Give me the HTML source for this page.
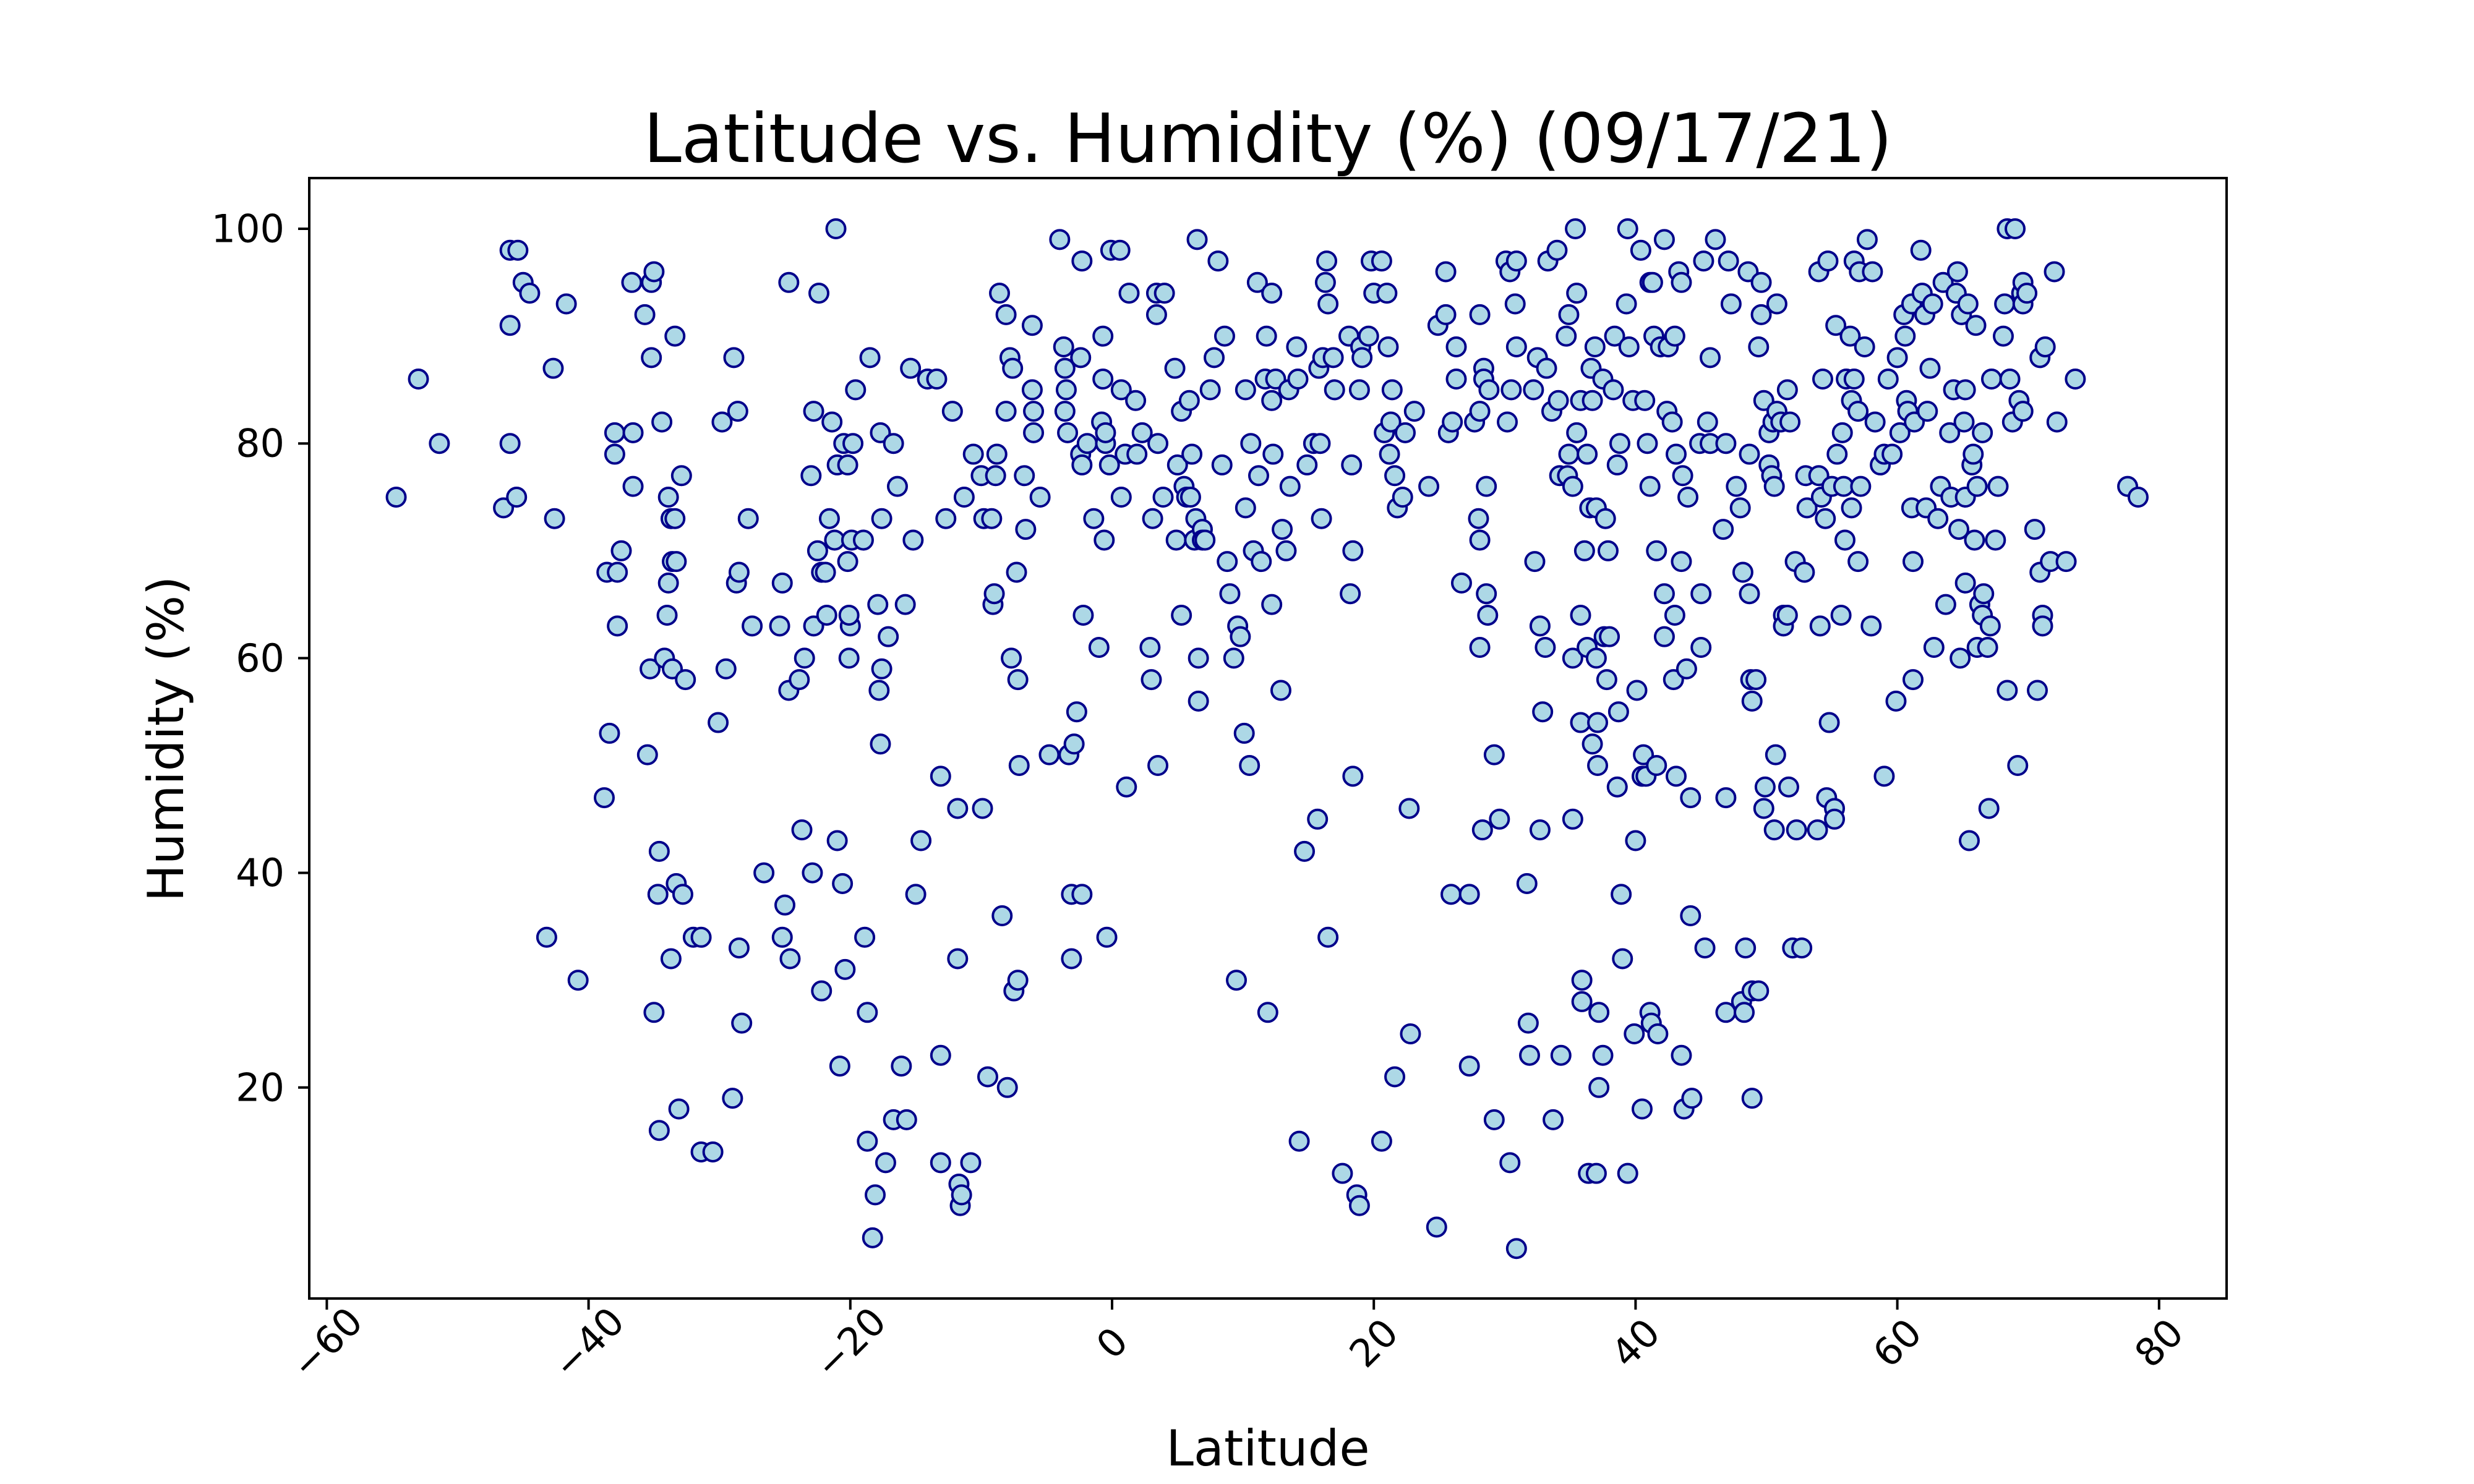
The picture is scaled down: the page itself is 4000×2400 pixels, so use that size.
<!DOCTYPE html>
<html><head><meta charset="utf-8"><style>
html,body{margin:0;padding:0;background:#fff;}
svg{display:block;font-family:"DejaVu Sans","Liberation Sans",sans-serif;}
</style></head><body>
<svg id="chart" width="4000" height="2400" viewBox="0 0 4000 2400" xmlns="http://www.w3.org/2000/svg">
<rect x="0" y="0" width="4000" height="2400" fill="#fff"/>
<text x="2050" y="262" font-size="110" text-anchor="middle" fill="#000">Latitude vs. Humidity (%) (09/17/21)</text>
<text x="2050" y="2370" font-size="80" text-anchor="middle" fill="#000">Latitude</text>
<text x="0" y="0" font-size="80" text-anchor="middle" fill="#000" transform="translate(296,1195) rotate(-90)">Humidity (%)</text>
<g id="ticks"></g>
<g id="points"></g>
<rect x="500" y="288" width="3100" height="1812" fill="none" stroke="#000" stroke-width="4"/>
</svg>
<script>
const xTicks = [-60,-40,-20,0,20,40,60,80];
const xTickLabels = ["\u221260","\u221240","\u221220","0","20","40","60","80"];
const yTicks = [20,40,60,80,100];
const yTickLabels = ["20","40","60","80","100"];
const latitudes = [-54.7,-53,-51.4,-46.5,-46,-45.4,-46,-46,-45.5,-45,-44.5,-41.7,-42.7,-42.6,-43.2,-40.8,
-38.8,-38.6,-38.4,-38,-38,-37.8,-37.8,-37.5,-36.7,-36.6,-36.6,-35.7,-35.5,-35.2,-35,-35.2,-35.3,-35,-34.6,-34.7,-34.6,-34.4,-34.2,-34,-33.9,-33.7,-33.6,-33.9,-33.7,-33.6,-33.4,-33.3,-33.4,-33.3,-33.1,-32.9,-32.8,-32.6,-32,-31.4,-31.4,-30.5,-30.1,-29.8,-29.5,-29,-28.9,-28.7,-28.6,-28.5,-28.5,-28.3,-27.8,-27.5,-26.6,-25.4,-25.2,-25,-25.2,-24.7,-24.6,-24.7,-23.9,-23.7,-23.5,-23,-22.8,-22.9,-22.8,-22.5,-22.4,-22.2,-22.2,-21.9,-21.8,-21.6,-21.4,-21.2,-21.1,-21,-20.8,-21,-20.6,-20.5,-20.4,-20.2,-20.2,-20.1,-20,-20.1,-19.9,-19.8,-19.6,
-19,-18.9,-18.7,-18.7,-18.5,-18.3,-18.1,-17.9,-17.8,-17.7,-17.7,-17.6,-17.6,-17.3,-17.1,-16.7,-16.7,-16.4,-16.1,-15.8,-15.7,-15.4,-15.2,-15,-14.6,-14.1,-13.4,-13.1,-13.1,-13.1,-12.7,-12.2,-11.8,-11.8,-11.7,-11.6,-11.5,-11.3,-10.8,-10.6,-10,-9.9,-9.5,-9.8,-9.2,-9.1,-9,-8.9,-8.8,-8.6,-8.4,-8.1,-8.1,-8,-7.8,-7.7,-7.6,-7.5,-7.3,-7.2,-7.2,-7.1,-6.7,-6.6,-6.1,-6.1,-6,-6,-5.5,-4.8,-4,-3.7,-3.6,-3.6,-3.5,-3.4,-3.3,-3.1,-3.1,-2.9,-2.7,-2.4,-2.3,-2.2,-2.3,-2.4,-2.3,-1.9,-1.4,-1,-0.8,-0.7,-0.7,-0.6,-0.5,-0.5,-0.4,-0.2,-0.1,
0.6,0.7,0.7,1,1.1,1.3,1.8,1.9,2.3,2.9,3,3.1,3.4,3.4,3.5,3.5,3.9,4,4.8,4.9,5,5.3,5.3,5.5,5.7,5.9,6,6.1,6.3,6.4,6.5,6.6,6.6,6.9,6.9,7.1,7.5,7.8,8.1,8.4,8.6,8.8,9,9.3,9.5,9.6,9.8,10.1,10.2,10.2,10.5,10.6,10.8,11.1,11.2,11.4,11.7,11.8,11.9,12.2,12.2,12.2,12.3,12.5,12.9,13,13.3,13.5,13.6,14.1,14.2,14.3,14.7,14.9,15.4,15.7,15.8,15.9,16,16.1,16.3,16.4,16.5,16.5,16.9,17,17.6,18.1,18.2,18.3,18.4,18.4,18.7,18.9,18.9,19,19.1,19.6,19.8,20,
20.6,20.6,20.8,21,21.1,21.2,21.3,21.4,21.6,21.6,21.8,22.2,22.4,22.7,22.8,23.1,24.2,24.8,24.9,25.5,25.5,25.7,25.9,26,26.3,26.3,26.7,27.3,27.3,27.7,28,28.1,28.1,28.1,28.1,28.3,28.4,28.4,28.6,28.6,28.7,28.8,29.2,29.2,29.6,30.1,30.2,30.4,30.5,30.4,30.9,30.9,30.8,30.9,31.7,31.8,31.9,32.2,32.3,32.5,32.7,32.7,32.9,33.1,33.2,33.3,33.6,33.7,34,34.1,34.2,34.3,34.7,34.8,34.9,34.9,35.2,35.2,35.2,35.4,35.5,35.5,35.8,35.8,35.8,35.9,35.9,36.1,36.3,36.3,36.4,36.5,36.6,36.7,36.7,36.9,37,37,37,37.1,37.1,37.2,37.2,37.5,37.5,37.6,37.7,37.8,37.9,38,38.3,38.4,38.6,38.6,38.7,38.8,38.9,39,39.3,39.4,39.4,39.5,39.8,
40,39.9,40.1,40.4,40.5,40.5,40.6,40.7,40.8,40.9,41.1,41.1,41.1,41.2,41.3,41.4,41.6,41.6,41.7,41.9,42.2,42.2,42.2,42.4,42.5,42.8,42.9,43,43,43.1,43.1,43.3,43.5,43.5,43.5,43.6,43.7,43.9,44,44.2,44.2,44.3,44.9,45,45,45.2,45.3,45.5,45.7,45.7,46.1,46.7,46.9,46.9,46.9,47.1,47.3,47.7,48,48.1,48.2,48.3,48.4,48.6,48.7,48.7,48.8,48.9,48.9,48.9,49.2,49.4,49.4,49.6,49.6,49.8,49.8,49.9,50.2,50.2,50.4,50.5,50.6,50.6,50.7,50.8,50.8,51.1,51.3,51.3,51.6,51.6,51.7,51.8,52,52.2,52.3,52.7,52.9,53,53.1,53.9,54,54,54.1,54.2,54.3,54.5,54.6,54.7,54.8,55,55.2,55.2,55.3,55.4,55.7,55.8,55.9,56,56.1,56.4,56.5,56.5,56.7,56.7,57,57,57.1,57.2,57.5,57.7,58,58.1,58.3,58.7,59,59,59.3,59.6,59.9,
60,60.2,60.5,60.6,60.7,60.8,61.1,61.2,61.2,61.1,61.3,61.8,61.9,62.1,62.2,62.3,62.5,62.7,62.8,63.1,63.3,63.5,63.7,64,64.1,64.3,64.5,64.6,64.7,64.8,64.9,65.1,65.2,65.2,65.2,65.4,65.5,65.7,65.8,65.9,66,66.1,66.1,66.3,66.5,66.5,66.6,66.9,67,67.1,67.2,67.5,67.7,68.1,68.2,68.4,68.4,68.6,68.8,69,69.2,69.3,69.5,69.6,69.6,69.6,69.9,70.5,70.7,70.9,70.9,71.1,71.1,71.3,71.7,72,72.2,72.9,73.6,77.6,78.4];
const humidities = [75,86,80,74,98,98,91,80,75,95,94,93,87,73,34,30,
47,68,53,81,79,63,68,70,95,81,76,92,51,95,96,88,59,27,42,38,16,82,60,64,75,73,69,67,32,59,90,39,73,69,18,77,38,58,34,34,14,14,54,82,59,19,88,67,83,68,33,26,73,63,40,63,67,37,34,95,32,57,58,44,60,77,83,40,63,70,94,29,68,68,64,73,82,71,100,43,22,78,39,80,31,69,78,60,63,64,71,80,85,
71,34,15,27,88,6,10,65,57,81,52,73,59,13,62,80,17,76,22,65,17,87,71,38,43,86,86,23,49,13,73,83,46,32,11,9,10,75,13,79,77,46,21,73,73,65,66,77,79,94,36,92,83,20,88,60,87,29,68,30,58,50,77,72,91,85,81,83,75,51,99,89,87,83,85,81,51,32,38,52,55,79,38,64,78,88,97,80,73,61,82,86,90,71,80,81,34,78,98,
98,85,75,79,48,94,84,79,81,61,58,73,92,94,50,80,75,94,87,71,78,83,64,76,75,84,75,79,71,73,99,56,60,72,71,71,85,88,97,78,90,69,66,60,30,63,62,53,74,85,50,80,70,95,77,69,86,90,27,84,94,65,79,86,57,72,70,85,76,89,86,15,42,78,80,45,87,80,73,88,95,97,93,34,88,85,12,90,66,78,49,70,10,9,85,89,88,90,97,94,
15,97,81,94,89,79,82,85,77,21,74,75,81,46,25,83,76,7,91,96,92,81,38,82,89,86,67,22,38,82,73,92,71,61,83,44,87,86,76,66,64,85,51,17,45,97,82,96,85,13,5,89,93,97,39,26,23,85,69,88,44,63,55,61,87,97,83,17,98,84,77,23,90,77,92,79,60,76,45,100,94,81,84,54,64,28,30,70,79,61,12,74,87,52,84,89,12,74,60,50,54,27,20,23,86,62,73,58,70,62,85,90,48,78,55,80,38,32,93,100,12,89,84,
43,25,57,98,18,49,51,84,49,80,27,95,76,26,95,90,70,50,25,89,99,62,66,83,89,82,58,90,64,79,49,96,69,95,23,77,18,59,75,36,47,19,80,61,66,97,33,82,80,88,99,72,80,27,47,97,93,76,74,28,68,27,33,96,79,66,58,19,29,56,58,29,89,95,92,84,46,48,78,81,77,82,76,44,51,93,83,82,64,63,64,85,48,82,33,69,44,33,68,77,74,44,96,77,63,75,86,73,47,97,54,76,46,45,91,79,64,81,76,71,86,90,84,74,97,86,83,69,96,76,89,99,63,96,82,78,79,49,86,79,56,
88,81,92,90,84,83,93,58,69,74,82,98,94,92,74,83,87,93,61,73,76,95,65,81,75,85,94,96,72,60,92,82,75,85,67,93,43,78,79,71,91,76,61,65,64,81,66,61,46,63,86,71,76,90,93,100,57,86,82,100,50,84,94,83,93,95,94,72,57,88,68,64,63,89,69,96,82,69,86,76,75];

const X0 = 1798, XK = 21.16, Y0 = 2106, YK = 17.36;
function xScale(v){ return X0 + v * XK; }
function yScale(v){ return Y0 - v * YK; }
const NS = "http://www.w3.org/2000/svg";
const tg = document.getElementById('ticks');
xTicks.forEach(function(t, i){
  const x = xScale(t);
  const l = document.createElementNS(NS, 'line');
  l.setAttribute('x1', x); l.setAttribute('x2', x);
  l.setAttribute('y1', 2100); l.setAttribute('y2', 2118);
  l.setAttribute('stroke', '#000'); l.setAttribute('stroke-width', 4);
  
  
  tg.appendChild(l);
  const tx = document.createElementNS(NS, 'text');
  tx.setAttribute('x', 0); tx.setAttribute('y', 0);
  tx.setAttribute('font-size', 62);
  tx.setAttribute('text-anchor', 'middle');
  tx.setAttribute('dominant-baseline', 'central');
  tx.setAttribute('transform', 'translate(' + x + ',2172) rotate(-45)');
  tx.textContent = xTickLabels[i];
  
  
  tg.appendChild(tx);
});
yTicks.forEach(function(t, i){
  const y = yScale(t);
  const l = document.createElementNS(NS, 'line');
  l.setAttribute('x1', 482); l.setAttribute('x2', 500);
  l.setAttribute('y1', y); l.setAttribute('y2', y);
  l.setAttribute('stroke', '#000'); l.setAttribute('stroke-width', 4);
  
  
  tg.appendChild(l);
  const tx = document.createElementNS(NS, 'text');
  tx.setAttribute('x', 460); tx.setAttribute('y', y);
  tx.setAttribute('font-size', 62);
  tx.setAttribute('text-anchor', 'end');
  tx.setAttribute('dominant-baseline', 'central');
  tx.textContent = yTickLabels[i];
  
  
  tg.appendChild(tx);
});
const pg = document.getElementById('points');
const n = Math.min(latitudes.length, humidities.length);
for (let i = 0; i < n; i++) {
  const c = document.createElementNS(NS, 'circle');
  c.setAttribute('cx', xScale(latitudes[i]));
  c.setAttribute('cy', yScale(humidities[i]));
  c.setAttribute('r', 15);
  c.setAttribute('fill', '#add8e6');
  c.setAttribute('stroke', '#00008b');
  c.setAttribute('stroke-width', 4);
  
  
  pg.appendChild(c);
}
</script>
</body></html>
